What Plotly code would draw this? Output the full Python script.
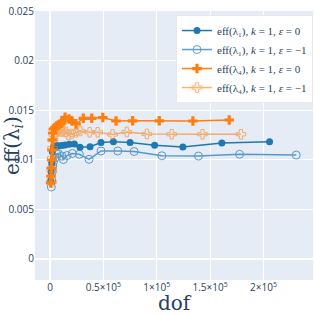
import plotly.graph_objects as go

# eff(lambda_1), k=1, eps=0
dof_l1_e0 = [750, 1100, 1600, 2200, 3100, 4700, 6300, 7800, 11000, 14100, 18100, 22800,
             28100, 37500, 47800, 59400, 75000, 98000, 124500, 161000, 205700]
eff_l1_e0 = [0.00783, 0.00874, 0.00965, 0.01076, 0.01126, 0.01136, 0.01136, 0.01139, 0.01141,
             0.01146, 0.01154, 0.01157, 0.01123, 0.01129, 0.01172, 0.01179, 0.01172, 0.01144,
             0.01126, 0.01167, 0.01180]

# eff(lambda_1), k=1, eps=-1
dof_l1_em1 = [1220, 1600, 2060, 2530, 3100, 4700, 6300, 7800, 11000, 12500, 15900, 20900,
              27500, 36600, 47800, 63500, 78800, 104800, 139100, 177600, 230700]
eff_l1_em1 = [0.00722, 0.00793, 0.00874, 0.00934, 0.00975, 0.01015, 0.01056, 0.01061, 0.01035,
              0.01000, 0.01040, 0.01061, 0.01053, 0.01002, 0.01086, 0.01086, 0.01081, 0.01038,
              0.01035, 0.01053, 0.01045]

# eff(lambda_4), k=1, eps=0
dof_l4_e0 = [660, 940, 1220, 1600, 1880, 2160, 2530, 3100, 4700, 6300, 7800, 9400, 11000,
             14100, 17800, 20400, 24400, 31200, 39100, 49400, 61900, 77400, 102400, 133900, 167900]
eff_l4_e0 = [0.00763, 0.00833, 0.00914, 0.00995, 0.01096, 0.01197, 0.01268, 0.01308, 0.01323,
             0.01338, 0.01349, 0.01359, 0.01369, 0.01426, 0.01409, 0.01392, 0.01359, 0.01416,
             0.01416, 0.01424, 0.01389, 0.01391, 0.01391, 0.01389, 0.01399]

# eff(lambda_4), k=1, eps=-1
dof_l4_em1 = [1410, 1690, 2060, 2440, 2810, 3750, 5600, 7800, 11000, 12500, 15000, 17200,
              20400, 24400, 28400, 37100, 44600, 58600, 71900, 90700, 114000, 142900, 178900]
eff_l4_em1 = [0.00773, 0.00894, 0.01015, 0.01116, 0.01197, 0.01247, 0.01268, 0.01288, 0.01283,
              0.01291, 0.01278, 0.01247, 0.01258, 0.01275, 0.01288, 0.01275, 0.01275, 0.01253,
              0.01278, 0.01258, 0.01255, 0.01255, 0.01255]

names = ["eff(λ₁), <i>k</i> = 1, <i>ε</i> = 0",
         "eff(λ₁), <i>k</i> = 1, <i>ε</i> = −1",
         "eff(λ₄), <i>k</i> = 1, <i>ε</i> = 0",
         "eff(λ₄), <i>k</i> = 1, <i>ε</i> = −1"]

BLUE = "#1f77b4"
ORANGE = "#ff7f0e"

fig = go.Figure()
series = [
    (dof_l1_e0, eff_l1_e0, BLUE, "circle", 1.0, 7),
    (dof_l1_em1, eff_l1_em1, BLUE, "circle-open", 0.7, 8),
    (dof_l4_e0, eff_l4_e0, ORANGE, "cross", 1.0, 8),
    (dof_l4_em1, eff_l4_em1, ORANGE, "cross-open", 0.6, 8),
]
for (x, y, c, sym, op, sz), nm in zip(series, names):
    fig.add_trace(go.Scatter(
        x=x, y=y, mode="lines+markers", name=nm, opacity=op,
        line=dict(color=c, width=1.5),
        marker=dict(color=c, symbol=sym, size=sz),
    ))

fig.update_layout(
    width=315, height=315,
    margin=dict(l=35, r=2, t=11, b=35),
    template="plotly",
    font=dict(size=10),
    legend=dict(
        x=1.0, xanchor="right", y=0.985, yanchor="top",
        bgcolor="white", bordercolor="#e8e8e8", borderwidth=1,
        font=dict(family="Liberation Serif", size=11, color="#2a3f5f"),
        tracegroupgap=0, itemwidth=30,
    ),
    xaxis=dict(
        range=[-14070, 246400], dtick=50000, exponentformat="power", automargin=False,
        title=dict(text="dof", font=dict(family="DejaVu Serif", size=20)),
    ),
    yaxis=dict(
        range=[-0.00217, 0.025], dtick=0.005, automargin=False,
        title=dict(text="eff(λ<sub><i>i</i></sub>)", font=dict(family="DejaVu Serif", size=20)),
    ),
)

fig.write_html("out.html", config={"displayModeBar": False},
               post_script="document.body.style.margin='0';")
